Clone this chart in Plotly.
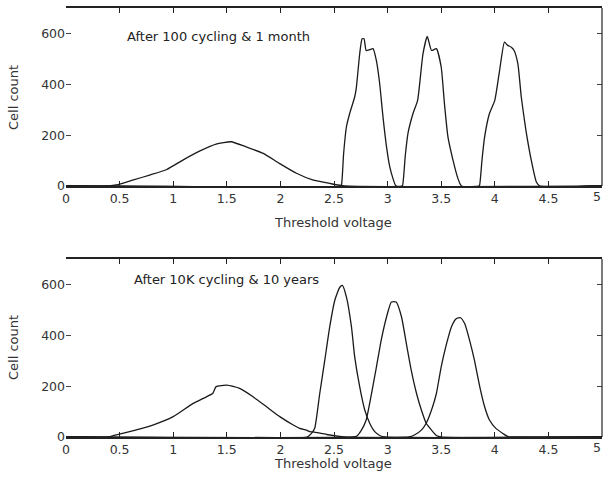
import plotly.graph_objects as go

# ---------------- data ----------------
# Top panel: after 100 cycling & 1 month
top_erase_x = [0, 0.40, 0.47, 0.63, 0.78, 0.94, 1.09, 1.25, 1.40, 1.54, 1.68, 1.84, 1.99, 2.15, 2.30, 2.46, 2.60, 5]
top_erase_y = [0, 0, 4, 24, 43, 65, 102, 138, 165, 174, 154, 128, 89, 50, 24, 10, 0, 0]

top_p1_x = [0, 2.56, 2.57, 2.59, 2.616, 2.647, 2.693, 2.709, 2.74, 2.762, 2.78, 2.80, 2.833, 2.864, 2.895, 2.926, 2.957, 2.99, 3.02, 3.05, 3.08, 5]
top_p1_y = [0, 0, 5, 129, 233, 286, 350, 389, 521, 579, 579, 533, 536, 540, 494, 403, 272, 154, 76, 30, 0, 0]

top_p2_x = [0, 3.13, 3.14, 3.165, 3.19, 3.237, 3.28, 3.33, 3.37, 3.41, 3.455, 3.50, 3.53, 3.563, 3.61, 3.656, 3.69, 5]
top_p2_y = [0, 0, 3, 120, 207, 285, 337, 520, 588, 533, 540, 468, 325, 193, 102, 30, 0, 0]

top_p3_x = [0, 3.85, 3.858, 3.88, 3.905, 3.95, 4.0, 4.045, 4.09, 4.12, 4.154, 4.18, 4.215, 4.247, 4.29, 4.34, 4.387, 4.42, 5]
top_p3_y = [0, 0, 3, 100, 193, 285, 337, 455, 566, 553, 546, 533, 481, 350, 220, 102, 17, 0, 0]

# Bottom panel: after 10K cycling & 10 years
bot_erase_x = [0, 0.40, 0.44, 0.63, 0.81, 1.0, 1.186, 1.31, 1.37, 1.40, 1.50, 1.62, 1.745, 1.87, 1.994, 2.12, 2.18, 2.243, 2.274, 2.305, 2.43, 2.6, 5]
bot_erase_y = [0, 0, 5, 25, 47, 80, 132, 158, 172, 198, 204, 191, 158, 119, 80, 47, 34, 27, 21, 20, 10, 0, 0]

bot_p1_x = [0, 2.25, 2.29, 2.32, 2.367, 2.414, 2.46, 2.507, 2.554, 2.578, 2.616, 2.663, 2.693, 2.74, 2.787, 2.833, 2.88, 2.93, 2.98, 5]
bot_p1_y = [0, 0, 14, 34, 171, 302, 433, 537, 589, 596, 550, 433, 315, 197, 106, 54, 21, 5, 0, 0]

bot_p2_x = [0, 2.68, 2.71, 2.756, 2.80, 2.85, 2.896, 2.94, 2.99, 3.035, 3.08, 3.13, 3.175, 3.22, 3.27, 3.315, 3.36, 3.41, 3.455, 3.50, 5]
bot_p2_y = [0, 0, 3, 27, 67, 171, 276, 380, 472, 531, 531, 472, 367, 264, 171, 106, 54, 27, 6, 0, 0]

bot_p3_x = [0, 3.20, 3.25, 3.315, 3.36, 3.42, 3.455, 3.50, 3.55, 3.595, 3.64, 3.68, 3.72, 3.765, 3.81, 3.86, 3.905, 3.95, 4.01, 4.075, 4.12, 4.2, 5]
bot_p3_y = [0, 0, 8, 27, 54, 119, 171, 276, 367, 433, 465, 469, 445, 380, 302, 197, 119, 67, 34, 14, 2, 0, 0]

x_tick_vals = [0, 0.5, 1, 1.5, 2, 2.5, 3, 3.5, 4, 4.5, 5]
x_tick_text = ["0", "0.5", "1", "1.5", "2", "2.5", "3", "3.5", "4", "4.5", "5"]
y_tick_vals = [0, 200, 400, 600]
y_tick_text = ["0", "200", "400", "600"]

top_label = "After 100 cycling & 1 month"
bot_label = "After 10K cycling & 10 years"
x_title = "Threshold voltage"
y_title = "Cell count"

# ---------------- figure ----------------
W, H = 603, 484
LINE = "#1a1a1a"
FONT = "DejaVu Sans"

fig = go.Figure()
top_series = [(top_erase_x, top_erase_y), (top_p1_x, top_p1_y), (top_p2_x, top_p2_y), (top_p3_x, top_p3_y)]
bot_series = [(bot_erase_x, bot_erase_y), (bot_p1_x, bot_p1_y), (bot_p2_x, bot_p2_y), (bot_p3_x, bot_p3_y)]
line_style = dict(color=LINE, width=1.3, shape="spline", smoothing=0.5)
for xs, ys in top_series:
    fig.add_trace(go.Scatter(x=xs, y=ys, mode="lines", line=line_style,
                             xaxis="x", yaxis="y", showlegend=False, hoverinfo="skip"))
for xs, ys in bot_series:
    fig.add_trace(go.Scatter(x=xs, y=ys, mode="lines", line=line_style,
                             xaxis="x2", yaxis="y2", showlegend=False, hoverinfo="skip"))

x0, x1 = 66 / W, 602 / W
top_dom = [1 - 186 / H, 1 - 8 / H]
bot_dom = [1 - 437 / H, 1 - 259 / H]

tick_font = dict(family=FONT, size=12.5, color="#333")
xax = dict(range=[0, 5], domain=[x0, x1], tickmode="array", tickvals=x_tick_vals, ticktext=x_tick_text,
           ticks="inside", ticklen=5, tickcolor="#222", showline=True, linecolor="#222", linewidth=1.5,
           mirror="ticks", showgrid=False, zeroline=False, automargin=False, tickfont=tick_font)
yax = dict(range=[0, 700], tickmode="array", tickvals=y_tick_vals, ticktext=y_tick_text,
           ticks="inside", ticklen=5, tickcolor="#444", showline=False, mirror="ticks",
           showgrid=False, zeroline=False, automargin=False, tickfont=tick_font)

fig.update_layout(
    width=W, height=H, margin=dict(l=0, r=0, t=0, b=0, autoexpand=False),
    paper_bgcolor="white", plot_bgcolor="white",
    xaxis=dict(xax, anchor="y"),
    yaxis=dict(yax, domain=top_dom, anchor="x"),
    xaxis2=dict(xax, anchor="y2"),
    yaxis2=dict(yax, domain=bot_dom, anchor="x2"),
)

# right borders
for dom in (top_dom, bot_dom):
    fig.add_shape(type="line", xref="paper", yref="paper", x0=x1, x1=x1, y0=dom[0], y1=dom[1],
                  line=dict(color="#222", width=1.2))

# last tick label ("5"), kept just inside the page edge
for xr, dom in (("x", top_dom), ("x2", bot_dom)):
    fig.add_annotation(x=x_tick_vals[-1], y=dom[0], xref=xr, yref="paper", text=x_tick_text[-1],
                       showarrow=False, xanchor="right", yanchor="top", yshift=-1, xshift=1,
                       font=tick_font)

ann_font = dict(family=FONT, size=13, color="#222")
fig.add_annotation(x=0.55, y=588, xref="x", yref="y", text=top_label, showarrow=False,
                   xanchor="left", yanchor="middle", font=ann_font)
fig.add_annotation(x=0.62, y=620, xref="x2", yref="y2", text=bot_label, showarrow=False,
                   xanchor="left", yanchor="middle", font=ann_font)

title_font = dict(family=FONT, size=13, color="#333")
for yc in (222, 463):
    fig.add_annotation(x=333 / W, y=1 - yc / H, xref="paper", yref="paper", text=x_title,
                       showarrow=False, xanchor="center", yanchor="middle", font=title_font)
for yc in (98, 348):
    fig.add_annotation(x=13 / W, y=1 - yc / H, xref="paper", yref="paper", text=y_title,
                       showarrow=False, xanchor="center", yanchor="middle", textangle=-90, font=title_font)

fig.write_html("out.html", config={"displayModeBar": False},
               post_script="document.body.style.margin='0';")
